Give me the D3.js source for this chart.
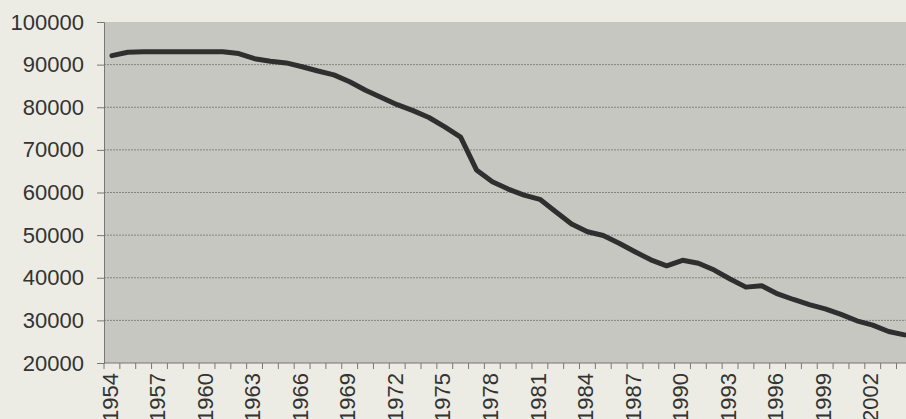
<!DOCTYPE html>
<html>
<head>
<meta charset="utf-8">
<script src="https://cdn.jsdelivr.net/npm/d3@7"></script>
<style>
  html, body { margin: 0; padding: 0; background: #ecebe4; overflow: hidden; }
  svg { display: block; }
  text { font-family: "Liberation Sans", Arial, sans-serif; fill: #333; }
</style>
</head>
<body>
<svg id="chart" width="906" height="419"></svg>
<script>
const years = d3.range(1954, 2005);
const values = [
  92100, 92900, 93000, 93000, 93000, 93000, 93000, 93000, 92600, 91400,
  90800, 90400, 89500, 88500, 87600, 86000, 84000, 82300, 80600, 79200,
  77600, 75400, 73000, 65300, 62500, 60800, 59400, 58400, 55500, 52600,
  50800, 49900, 48100, 46100, 44200, 42800, 44100, 43400, 41800, 39700,
  37800, 38100, 36200, 34900, 33700, 32700, 31400, 29900, 28900, 27400,
  26600
];
const yTicks = [20000, 30000, 40000, 50000, 60000, 70000, 80000, 90000, 100000];
const xTickLabels = years.filter(y => (y - 1954) % 3 === 0);

(function () {
const data = years.map((yr, i) => ({ year: yr, value: values[i] }));

const svg = d3.select("#chart");
const mLeft = 104, mTop = 22, mBottom = 363;
const step = 15.85;
const mRight = mLeft + step * years.length;

const x = d3.scaleBand().domain(years).range([mLeft, mRight]).padding(0);
const y = d3.scaleLinear().domain([20000, 100000]).range([mBottom, mTop]);

// plot background
svg.append("rect")
  .attr("x", mLeft).attr("y", mTop)
  .attr("width", mRight - mLeft).attr("height", mBottom - mTop)
  .attr("fill", "#c7c7c2");

// gridlines
svg.append("g").selectAll("line")
  .data(yTicks.filter(t => t > 20000 && t < 100000))
  .join("line")
  .attr("x1", mLeft).attr("x2", mRight)
  .attr("y1", d => y(d)).attr("y2", d => y(d))
  .attr("stroke", "#858580").attr("stroke-width", 1)
  .attr("stroke-dasharray", "2,1");

// y axis
const yAxis = d3.axisLeft(y).tickValues(yTicks).tickSize(7).tickPadding(13)
  .tickFormat(d3.format("d"));
const gy = svg.append("g").attr("transform", `translate(${mLeft},0)`).call(yAxis);
gy.select(".domain").attr("stroke", "#777");
gy.selectAll(".tick line").attr("stroke", "#777");
gy.selectAll("text").attr("font-size", 22).attr("fill", "#333")
  .attr("font-family", "'Liberation Sans', Arial, sans-serif");

// x axis line
svg.append("line")
  .attr("x1", mLeft).attr("x2", mRight)
  .attr("y1", mBottom).attr("y2", mBottom)
  .attr("stroke", "#777");

// x boundary ticks
const bounds = years.map(d => x(d)).concat([x(years[years.length - 1]) + x.bandwidth()]);
svg.append("g").selectAll("line")
  .data(bounds).join("line")
  .attr("x1", d => d).attr("x2", d => d)
  .attr("y1", mBottom).attr("y2", mBottom + 6)
  .attr("stroke", "#777");

// x labels
const xAxis = d3.axisBottom(x).tickValues(xTickLabels).tickSize(0).tickPadding(0);
const gx = svg.append("g").attr("transform", `translate(0,${mBottom})`).call(xAxis);
gx.select(".domain").remove();
gx.selectAll("text")
  .attr("font-size", 22).attr("fill", "#333")
  .attr("font-family", "'Liberation Sans', Arial, sans-serif")
  .attr("text-anchor", "end")
  .attr("transform", "rotate(-90)")
  .attr("x", -10).attr("y", -2).attr("dy", "0.35em");

// line
const line = d3.line()
  .x(d => x(d.year) + x.bandwidth() / 2)
  .y(d => y(d.value));
svg.append("path")
  .datum(data)
  .attr("d", line)
  .attr("fill", "none")
  .attr("stroke", "#2f2f2f")
  .attr("stroke-width", 5)
  .attr("stroke-linejoin", "round")
  .attr("stroke-linecap", "round");
})();
</script>
</body>
</html>
